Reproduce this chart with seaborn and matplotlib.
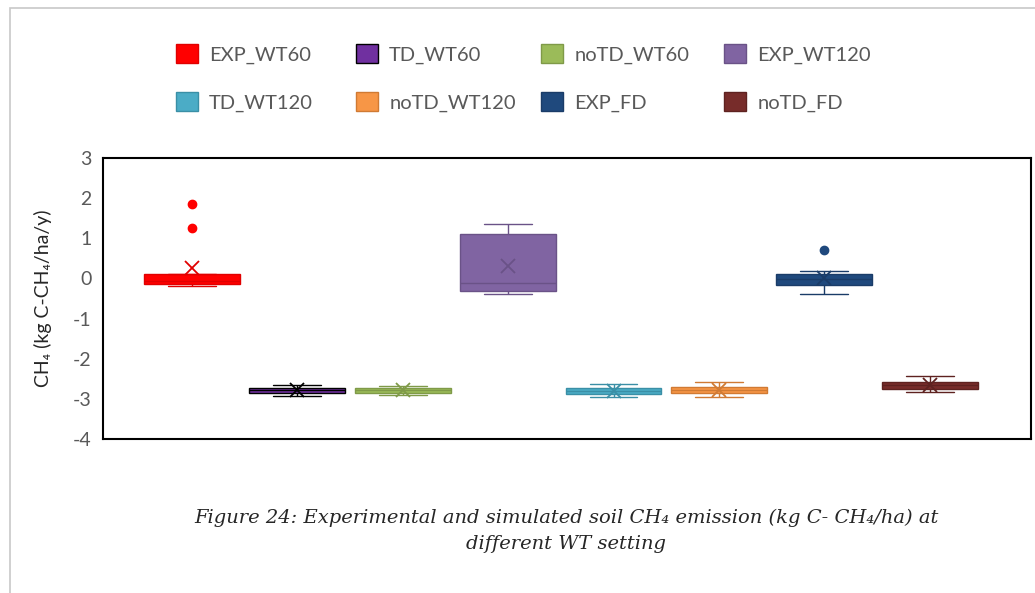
import matplotlib
matplotlib.use("Agg")
import matplotlib.pyplot as plt
import matplotlib.patches as mpatches
import seaborn as sns
import numpy as np
import pandas as pd

# series names in plotting order
series_names = ["EXP_WT60", "TD_WT60", "noTD_WT60", "EXP_WT120",
                "TD_WT120", "noTD_WT120", "EXP_FD", "noTD_FD"]

# CH4 values (kg C-CH4/ha/y)
exp_wt60 = [-0.18, -0.17, -0.15, -0.10, -0.08, -0.03, 0.05, 0.12, 1.25, 1.85]
td_wt60 = [-2.92, -2.89, -2.87, -2.85, -2.80, -2.78, -2.74, -2.71, -2.69, -2.66]
notd_wt60 = [-2.90, -2.87, -2.85, -2.82, -2.79, -2.77, -2.74, -2.71, -2.69, -2.67]
exp_wt120 = [-0.40, -0.33, -0.30, -0.15, -0.07, 1.05, 1.30, 1.35]
td_wt120 = [-2.95, -2.90, -2.88, -2.85, -2.82, -2.80, -2.77, -2.72, -2.68, -2.62]
notd_wt120 = [-2.96, -2.90, -2.87, -2.84, -2.80, -2.78, -2.75, -2.70, -2.66, -2.58]
exp_fd = [-0.40, -0.25, -0.20, -0.10, -0.05, 0.00, 0.08, 0.12, 0.18, 0.71]
notd_fd = [-2.84, -2.78, -2.75, -2.72, -2.68, -2.65, -2.62, -2.58, -2.50, -2.44]

all_values = [exp_wt60, td_wt60, notd_wt60, exp_wt120,
              td_wt120, notd_wt120, exp_fd, notd_fd]

fill_colors = ["#FF0000", "#7030A0", "#9BBB59", "#8064A2",
               "#4BACC6", "#F79646", "#1F497D", "#772C2A"]
edge_colors = ["#E00000", "#000000", "#7F9A48", "#6A5287",
               "#3A8FA6", "#D07A33", "#1A3C68", "#5E2220"]

rows = []
for name, vals in zip(series_names, all_values):
    for v in vals:
        rows.append({"series": name, "value": v})
df = pd.DataFrame(rows)

sns.set_theme(style="white")
plt.rcParams["axes.unicode_minus"] = False
text_gray = "#595959"

fig = plt.figure(figsize=(10.35, 5.93), dpi=100)
ax = fig.add_axes([0.0995, 0.2597, 0.8965, 0.4739])

for name, fc, ec in zip(series_names, fill_colors, edge_colors):
    sns.boxplot(data=df[df["series"] == name], x="series", y="value",
                order=series_names, color=fc, linecolor=ec, saturation=1,
                width=0.91, linewidth=1.0, showmeans=True, ax=ax,
                meanprops=dict(marker="x", markeredgecolor=ec, markersize=10,
                               markeredgewidth=1.3),
                flierprops=dict(marker="o", markerfacecolor=fc,
                                markeredgecolor=fc, markersize=6))

ax.set_xlim(-0.844, 7.96)
ax.set_ylim(-4, 3)
ax.set_yticks(np.arange(-4, 4, 1))
ax.set_xticks([])
ax.set_xlabel("")
ax.set_ylabel("CH\u2084 (kg C-CH\u2084/ha/y)", fontsize=14, color="#262626",
              family=["Lato", "DejaVu Sans"], labelpad=15)
ax.tick_params(axis="y", length=0, labelsize=14, labelcolor=text_gray, pad=8)
for lab in ax.get_yticklabels():
    lab.set_family(["Lato", "DejaVu Sans"])
for sp in ax.spines.values():
    sp.set_visible(True)
    sp.set_color("#000000")
    sp.set_linewidth(1.5)

# legend: one small legend per column, two rows each
handles = [mpatches.Patch(facecolor=fc, edgecolor=ec, linewidth=1, label=name)
           for name, fc, ec in zip(series_names, fill_colors, edge_colors)]
col_x = [176, 356, 541, 724]
for c, x in enumerate(col_x):
    idx = [c, c + 4]
    leg = fig.legend([handles[i] for i in idx], [series_names[i] for i in idx],
                     loc="upper left", bbox_to_anchor=(x / 1035, 1 - 44 / 593),
                     ncol=1, frameon=False, handlelength=1.1, handleheight=1.1,
                     handletextpad=0.55, labelspacing=1.4, borderpad=0,
                     borderaxespad=0,
                     prop={"family": "Lato", "size": 14.5}, labelcolor=text_gray)

# caption
fig.text(0.547, 1 - 531 / 593,
         "Figure 24: Experimental and simulated soil CH\u2084 emission (kg C- CH\u2084/ha) at\ndifferent WT setting",
         ha="center", va="center", fontsize=14, style="italic",
         family=["DejaVu Serif"], color="#262626", linespacing=1.55)

# outer frame of the figure
fig.add_artist(mpatches.Rectangle((0.0097, -0.05), 1.2, 1.036,
                                  transform=fig.transFigure, fill=False,
                                  edgecolor="#c8c8c8", linewidth=1.2))

fig.savefig("out.png", dpi=100)
